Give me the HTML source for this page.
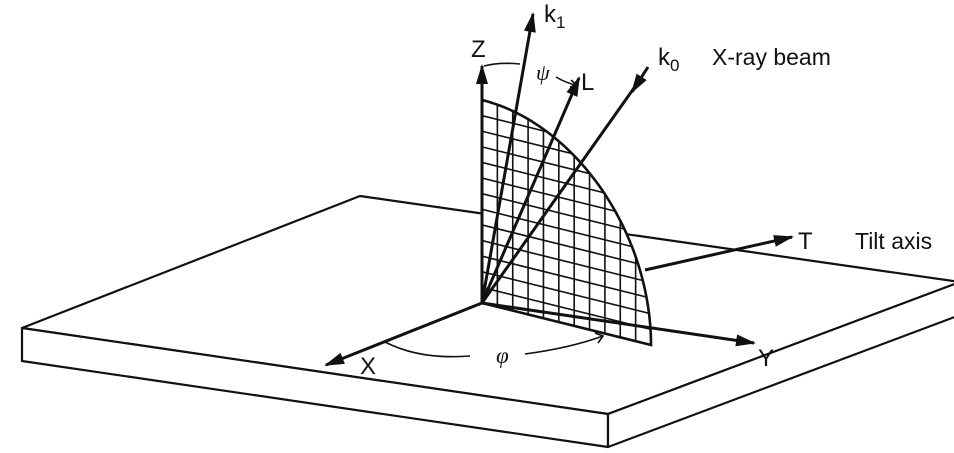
<!DOCTYPE html>
<html><head><meta charset="utf-8"><style>
html,body{margin:0;padding:0;background:#fff;}
svg{display:block;}
text{font-family:"Liberation Sans",sans-serif;fill:#111;}
</style></head><body>
<svg id="fig" width="954" height="453" viewBox="0 0 954 453" xmlns="http://www.w3.org/2000/svg">
<defs>
<marker id="ah" viewBox="0 0 20 12" refX="18" refY="6" markerWidth="20" markerHeight="12" orient="auto" markerUnits="userSpaceOnUse"><path d="M0,0 L20,6 L0,12 z" fill="#111"/></marker>
<clipPath id="pc"><path id="clipShape"/></clipPath>
</defs>
<g fill="#fff" stroke="#111" stroke-width="2.2" stroke-linejoin="round">
<polygon points="22,328 360,196 960,282 608,414"/>
<polygon points="22,328 608,414 608,447 22,361"/>
<polygon points="608,414 960,282 960,315 608,447"/>
</g>
<g id="plane"></g>
<g id="axes"></g>
<g>
<text x="471" y="57" font-size="24">Z</text>
<text x="544" y="22" font-size="24">k<tspan font-size="17" dy="6">1</tspan></text>
<text x="536" y="80" font-size="22" font-style="italic" style="font-family:'Liberation Serif',serif">ψ</text>
<text x="581" y="90" font-size="24">L</text>
<text x="658" y="65" font-size="24">k<tspan font-size="17" dy="6">0</tspan></text>
<text x="712" y="65" font-size="23">X-ray beam</text>
<text x="798" y="249" font-size="24">T</text>
<text x="855" y="249" font-size="23">Tilt axis</text>
<text x="758" y="366" font-size="24">Y</text>
<text x="360" y="374" font-size="24">X</text>
<text x="496" y="363" font-size="23" font-style="italic" style="font-family:'Liberation Serif',serif">φ</text>
</g>
<g fill="none" stroke="#111" stroke-width="1.6">
<path d="M484,66 Q500,62 520,64"/>
<path d="M556,77 Q566,83 576,85"/>
<path d="M571,80 L577,85 L570,87"/>
<path d="M385,342 Q420,360 470,356 M525,354 Q570,348 603,336"/>
<path d="M595,333 L603,336 L598,343"/>
</g>
</svg>
<script>
// Diagram geometry (origin and vector tips)
const origin = [482, 303];
const planeBase = [651, 345];
const planeTop = [482, 100];
const gridCols = 11;
const gridRows = 13;
const NS = "http://www.w3.org/2000/svg";
function P(u, v) {
  return [origin[0] + u*(planeBase[0]-origin[0]) + v*(planeTop[0]-origin[0]),
          origin[1] + u*(planeBase[1]-origin[1]) + v*(planeTop[1]-origin[1])];
}
let d = "M" + origin.join(",");
for (let i = 0; i <= 60; i++) { const a = i/60*Math.PI/2; d += " L" + P(Math.cos(a), Math.sin(a)).join(","); }
d += " Z";
document.getElementById('clipShape').setAttribute('d', d);
const plane = document.getElementById('plane');
const fill = document.createElementNS(NS, 'path');


fill.setAttribute('d', d); fill.setAttribute('fill', '#fff'); fill.setAttribute('stroke', 'none');
plane.appendChild(fill);
const grid = document.createElementNS(NS, 'g');


grid.setAttribute('clip-path', 'url(#pc)'); grid.setAttribute('stroke', '#111'); grid.setAttribute('stroke-width', '1.6');
for (let i = 1; i < gridCols; i++) {
  const a = P(i/gridCols, 0), b = P(i/gridCols, 1.05);
  const l = document.createElementNS(NS, 'line');
  l.setAttribute('x1', a[0]); l.setAttribute('y1', a[1]); l.setAttribute('x2', b[0]); l.setAttribute('y2', b[1]);
  grid.appendChild(l);
}
for (let j = 1; j < gridRows; j++) {
  const a = P(0, j/gridRows), b = P(1.05, j/gridRows);
  const l = document.createElementNS(NS, 'line');
  l.setAttribute('x1', a[0]); l.setAttribute('y1', a[1]); l.setAttribute('x2', b[0]); l.setAttribute('y2', b[1]);
  grid.appendChild(l);
}
plane.appendChild(grid);
const outline = document.createElementNS(NS, 'path');


outline.setAttribute('d', d); outline.setAttribute('fill', 'none'); outline.setAttribute('stroke', '#111'); outline.setAttribute('stroke-width', '2.6');
plane.appendChild(outline);
// Vectors
const vectorNames = ['z-axis','k1-vector','l-vector','k0-beam','y-axis','x-axis','tilt-axis'];
const vectorStarts = [[482,303],[482,303],[482,303],[648,67],[482,303],[482,303],[645,270]];
const vectorEnds = [[482,66],[533,14],[579,78],[632,92],[754,343],[326,365],[792,237]];
const axes = document.getElementById('axes');
vectorNames.forEach((n, i) => {
  const l = document.createElementNS(NS, 'line');
  
  
  l.setAttribute('x1', vectorStarts[i][0]); l.setAttribute('y1', vectorStarts[i][1]);
  l.setAttribute('x2', vectorEnds[i][0]); l.setAttribute('y2', vectorEnds[i][1]);
  l.setAttribute('stroke', '#111'); l.setAttribute('stroke-width', '3');
  l.setAttribute('marker-end', 'url(#ah)');
  axes.appendChild(l);
});
const k0 = document.createElementNS(NS, 'line');


k0.setAttribute('x1', 634); k0.setAttribute('y1', 88); k0.setAttribute('x2', 482); k0.setAttribute('y2', 303);
k0.setAttribute('stroke', '#111'); k0.setAttribute('stroke-width', '3');
axes.appendChild(k0);
</script>
</body></html>
